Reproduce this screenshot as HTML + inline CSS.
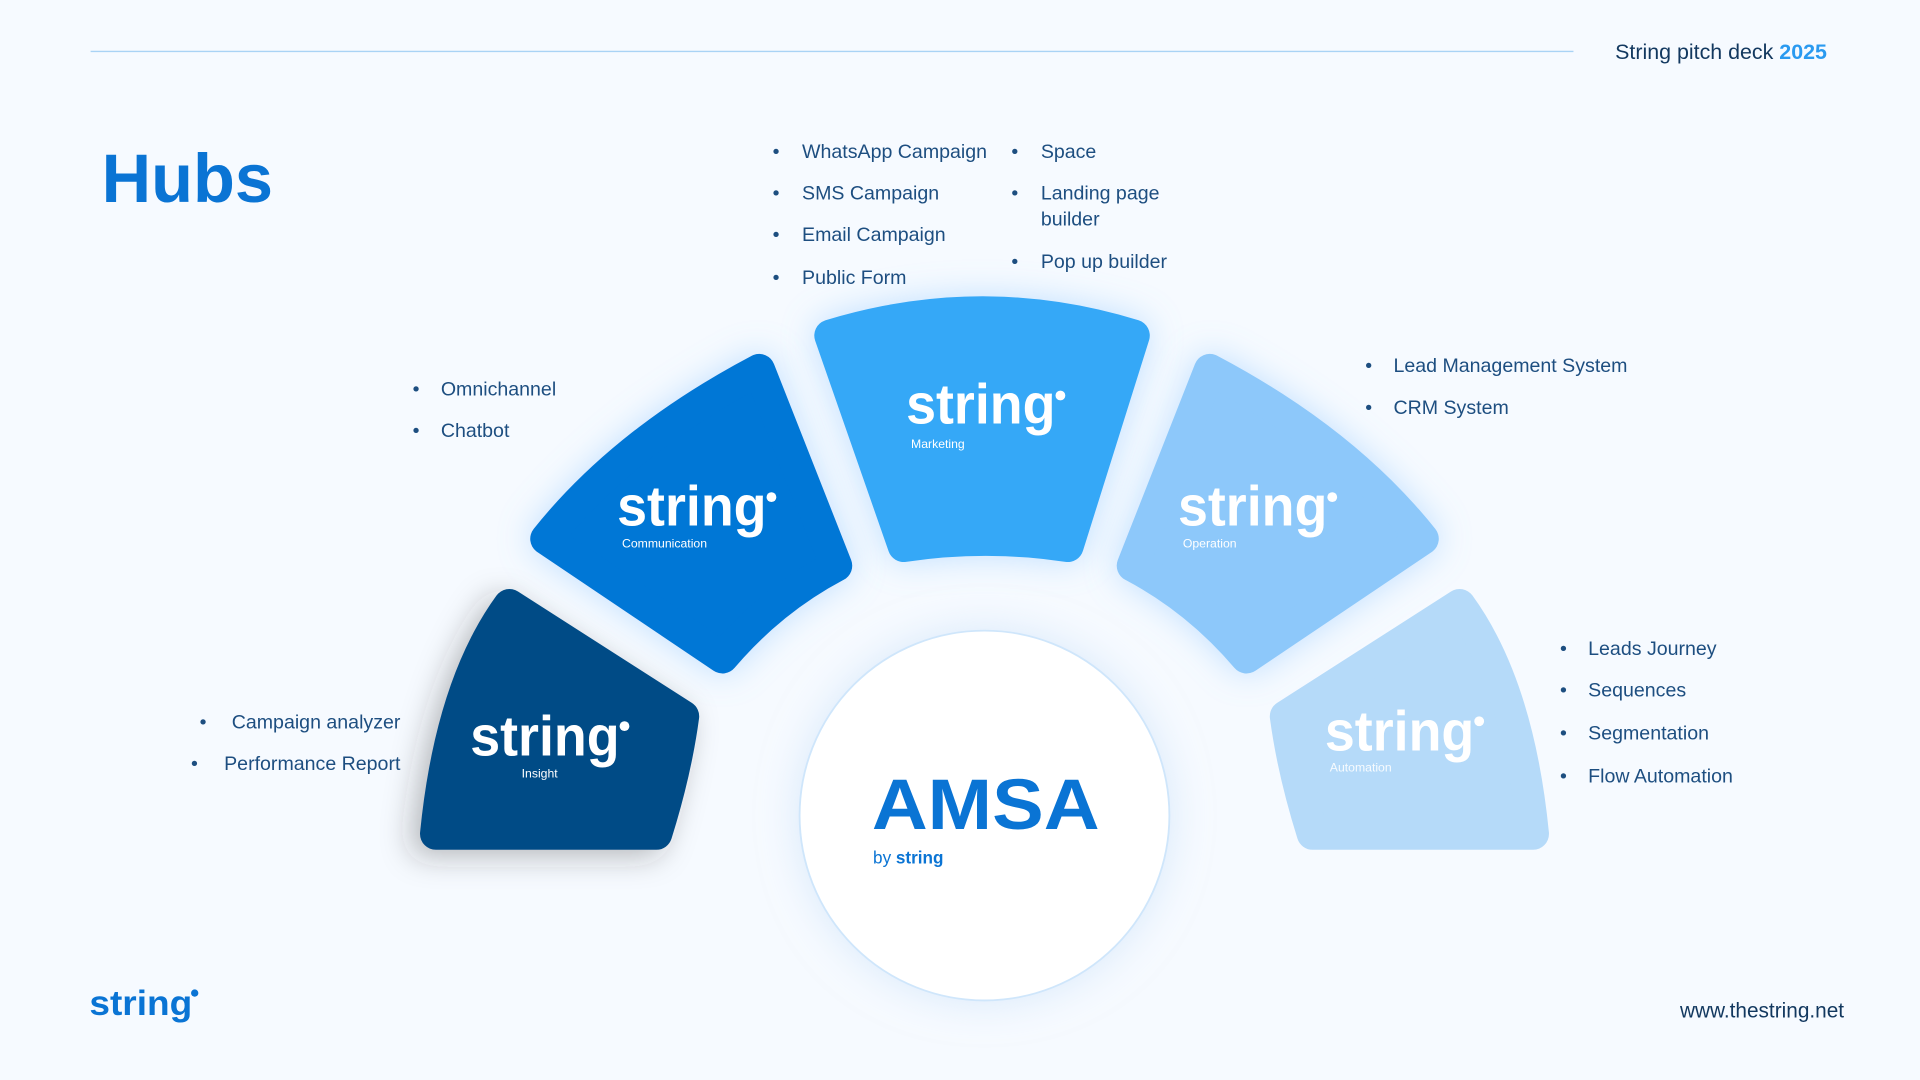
<!DOCTYPE html>
<html><head><meta charset="utf-8"><style>
html,body{margin:0;padding:0;background:#f6faff;}
svg{display:block;}
text{font-family:"Liberation Sans",sans-serif;}
.b{font-size:16px;fill:#1d4e80;}
.lg{font-weight:bold;fill:#fff;font-size:46px;}
.lb{fill:#fff;font-size:10px;}
</style></head><body>
<svg width="1920" height="1080" viewBox="0 0 1568 882" xmlns="http://www.w3.org/2000/svg">
<defs>
<filter id="gl" x="-40%" y="-40%" width="180%" height="180%"><feDropShadow dx="0" dy="0" stdDeviation="14" flood-color="#7fc0ff" flood-opacity="0.45"/></filter>
<filter id="gd" x="-40%" y="-40%" width="180%" height="180%"><feDropShadow dx="-8" dy="6" stdDeviation="12" flood-color="#333" flood-opacity="0.3"/></filter>
<filter id="gc" x="-40%" y="-40%" width="180%" height="180%"><feDropShadow dx="0" dy="0" stdDeviation="16" flood-color="#bcd8f5" flood-opacity="0.5"/></filter>
</defs>
<rect width="1568" height="882" fill="#f6faff"/>
<line x1="74" y1="42" x2="1285" y2="42" stroke="#a9d3f5" stroke-width="1.2"/>
<text x="1319" y="48" font-size="17.5" fill="#12385f">String pitch deck <tspan font-weight="bold" fill="#2a9af0">2025</tspan></text>
<text x="83" y="165" font-size="56" font-weight="bold" fill="#0a74d4">Hubs</text>

<circle cx="804" cy="666" r="151" fill="#fff" stroke="#cfe6fb" stroke-width="1.5" filter="url(#gc)"/>
<text x="712" y="677" font-size="58" font-weight="bold" fill="#0a74d4" textLength="186" lengthAdjust="spacingAndGlyphs">AMSA</text>
<text x="713" y="705" font-size="14" fill="#0a74d4">by <tspan font-weight="bold">string</tspan></text>

<g stroke-linejoin="round" stroke-width="26">
<path d="M416,494 L558,585 Q552,630 536,681 L356,681 Q368,560 416,494 Z" fill="#064c86" stroke="#064c86" filter="url(#gd)"/>
<path d="M1192,494 L1050,585 Q1056,630 1072,681 L1252,681 Q1240,560 1192,494 Z" fill="#b5daf9" stroke="#b5daf9"/>
<path d="M620,302 Q510,360 446,440 L590,537 Q630,490 683,462 Z" fill="#0277d6" stroke="#0277d6" filter="url(#gl)"/>
<path d="M988,302 Q1098,360 1162,440 L1018,537 Q978,490 925,462 Z" fill="#8dc8fa" stroke="#8dc8fa" filter="url(#gl)"/>
<path d="M678,274 Q803,236 926,274 L872,446 Q805,436 738,446 Z" fill="#36a8f7" stroke="#36a8f7" filter="url(#gl)"/>
</g>

<g>
<text class="lg" x="740" y="346" textLength="122" lengthAdjust="spacingAndGlyphs">string</text><circle cx="866" cy="323" r="4" fill="#fff"/><text class="lb" x="744" y="366">Marketing</text>
<text class="lg" x="504" y="429" textLength="122" lengthAdjust="spacingAndGlyphs">string</text><circle cx="630" cy="406" r="4" fill="#fff"/><text class="lb" x="508" y="447">Communication</text>
<text class="lg" x="962" y="429" textLength="122" lengthAdjust="spacingAndGlyphs">string</text><circle cx="1088" cy="406" r="4" fill="#fff"/><text class="lb" x="966" y="447">Operation</text>
<text class="lg" x="384" y="617" textLength="122" lengthAdjust="spacingAndGlyphs">string</text><circle cx="510" cy="593" r="4" fill="#fff"/><text class="lb" x="426" y="635">Insight</text>
<text class="lg" x="1082" y="613" textLength="122" lengthAdjust="spacingAndGlyphs">string</text><circle cx="1208" cy="589" r="4" fill="#fff"/><text class="lb" x="1086" y="630" opacity="0.9">Automation</text>
</g>

<g>
<text class="b" x="631" y="129">•</text><text class="b" x="655" y="129">WhatsApp Campaign</text>
<text class="b" x="631" y="163">•</text><text class="b" x="655" y="163">SMS Campaign</text>
<text class="b" x="631" y="197">•</text><text class="b" x="655" y="197">Email Campaign</text>
<text class="b" x="631" y="232">•</text><text class="b" x="655" y="232">Public Form</text>
<text class="b" x="826" y="129">•</text><text class="b" x="850" y="129">Space</text>
<text class="b" x="826" y="163">•</text><text class="b" x="850" y="163">Landing page</text>
<text class="b" x="850" y="184">builder</text>
<text class="b" x="826" y="219">•</text><text class="b" x="850" y="219">Pop up builder</text>
<text class="b" x="337" y="323">•</text><text class="b" x="360" y="323">Omnichannel</text>
<text class="b" x="337" y="357">•</text><text class="b" x="360" y="357">Chatbot</text>
<text class="b" x="1115" y="304">•</text><text class="b" x="1138" y="304">Lead Management System</text>
<text class="b" x="1115" y="338">•</text><text class="b" x="1138" y="338">CRM System</text>
<text class="b" x="163" y="595">•</text><text class="b" x="327" y="595" text-anchor="end">Campaign analyzer</text>
<text class="b" x="156" y="629">•</text><text class="b" x="327" y="629" text-anchor="end">Performance Report</text>
<text class="b" x="1274" y="535">•</text><text class="b" x="1297" y="535">Leads Journey</text>
<text class="b" x="1274" y="569">•</text><text class="b" x="1297" y="569">Sequences</text>
<text class="b" x="1274" y="604">•</text><text class="b" x="1297" y="604">Segmentation</text>
<text class="b" x="1274" y="639">•</text><text class="b" x="1297" y="639">Flow Automation</text>
</g>

<text x="73" y="829" font-size="29" font-weight="bold" fill="#0a74d4" textLength="84" lengthAdjust="spacingAndGlyphs">string</text>
<circle cx="159" cy="811" r="3" fill="#0a74d4"/>
<text x="1506" y="831" font-size="17" fill="#12385f" text-anchor="end">www.thestring.net</text>
</svg>
</body></html>
